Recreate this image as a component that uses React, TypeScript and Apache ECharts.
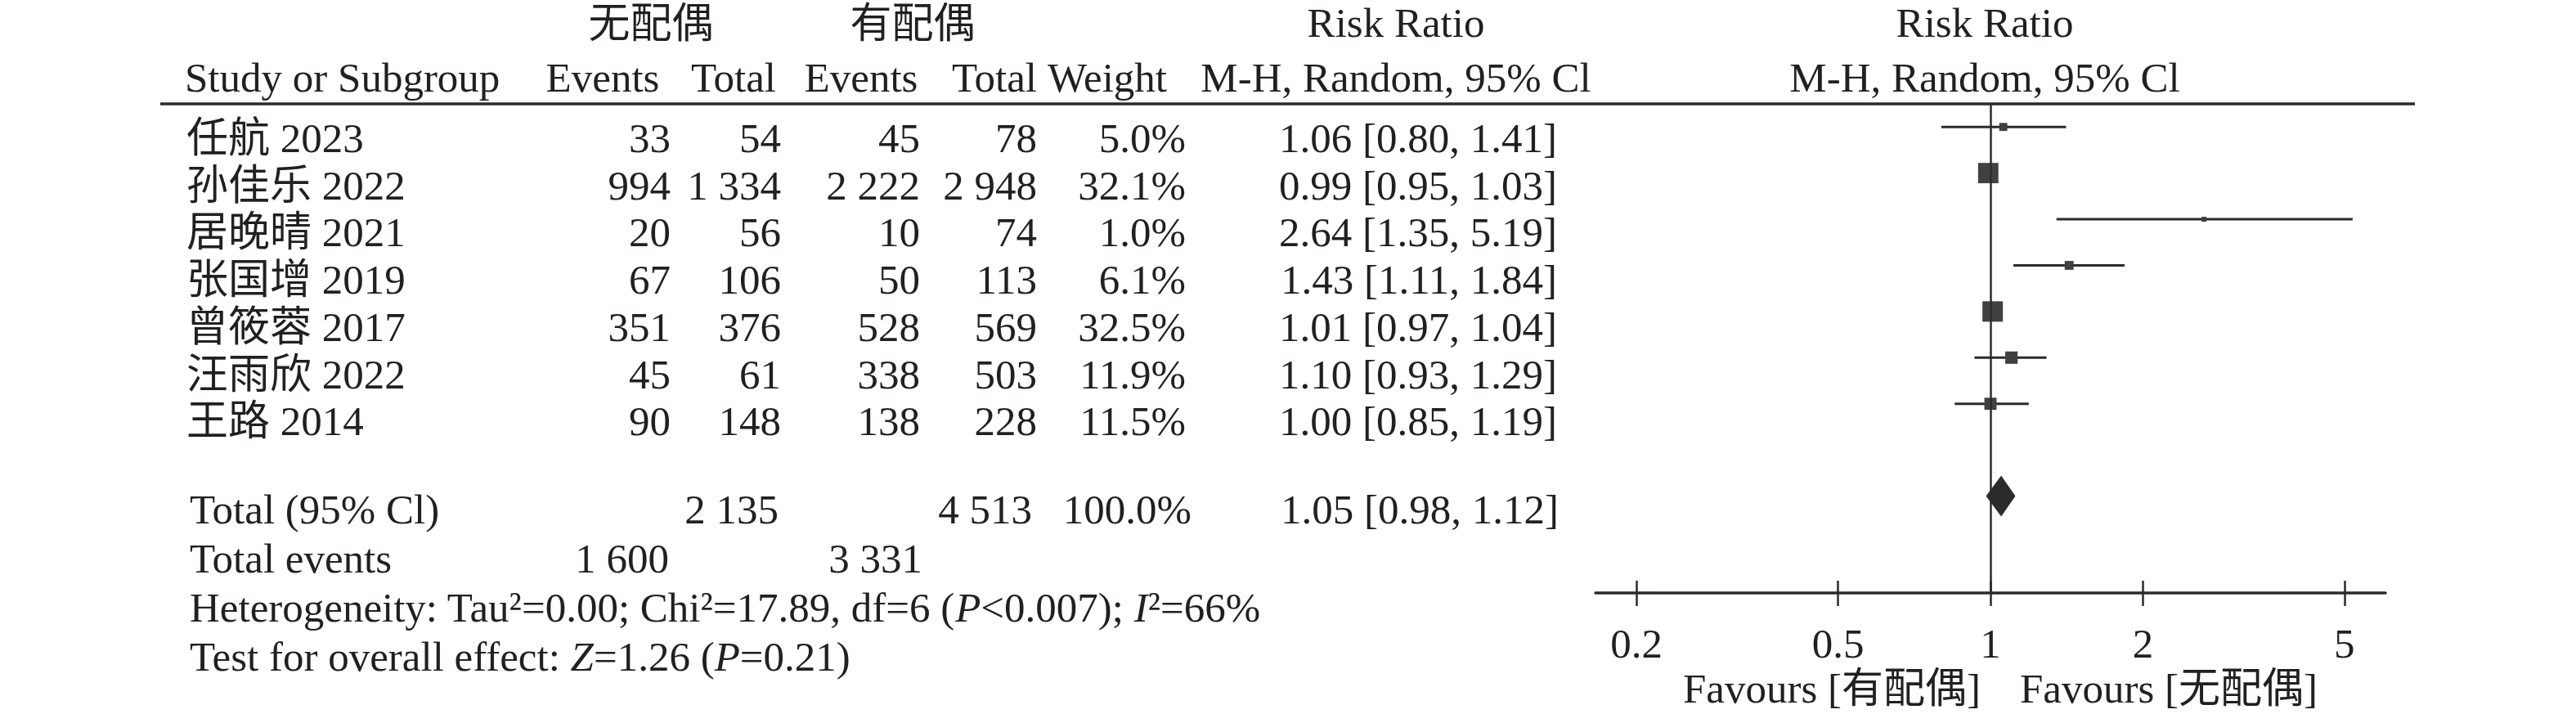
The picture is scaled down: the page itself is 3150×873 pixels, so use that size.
import React, { useEffect, useRef } from 'react';
import * as echarts from 'echarts';

// ---------- data ----------
const studyNames = ['任航 2023', '孙佳乐 2022', '居晚晴 2021', '张国增 2019', '曾筱蓉 2017', '汪雨欣 2022', '王路 2014'];
const eventsNoSpouse = [33, 994, 20, 67, 351, 45, 90];
const totalNoSpouse = [54, 1334, 56, 106, 376, 61, 148];
const eventsSpouse = [45, 2222, 10, 50, 528, 338, 138];
const totalSpouse = [78, 2948, 74, 113, 569, 503, 228];
const weights = [5.0, 32.1, 1.0, 6.1, 32.5, 11.9, 11.5];
const riskRatio = [1.06, 0.99, 2.64, 1.43, 1.01, 1.10, 1.00];
const ciLow = [0.80, 0.95, 1.35, 1.11, 0.97, 0.93, 0.85];
const ciHigh = [1.41, 1.03, 5.19, 1.84, 1.04, 1.29, 1.19];

const pooledRR = [1.05];
const pooledLow = [0.98];
const pooledHigh = [1.12];
const pooledRow = [8];
const totalParticipants = [2135, 4513];
const totalEvents = [1600, 3331];
const totalWeight = [100.0];

const axisTickValues = [0.2, 0.5, 1, 2, 5];
const groupLabels = ['无配偶', '有配偶'];
const favourLabels = ['Favours [有配偶]', 'Favours [无配偶]'];
const heterogeneityParts = ['Heterogeneity: Tau²=0.00; Chi²=17.89, df=6 (', 'P', '<0.007); ', 'I', '²=66%'];
const overallParts = ['Test for overall effect: ', 'Z', '=1.26 (', 'P', '=0.21)'];

// ---------- helpers ----------
const FONT = "'Liberation Serif', 'Noto Sans CJK SC', serif";
const FS = 51;
const INK = '#231f20';
const LINE = '#2b2b2b';
const fmt = (n: number) => n.toString().replace(/\B(?=(\d{3})+(?!\d))/g, ' ');

function txt(text: string, x: number, y: number, align: string = 'left', extra: any = {}) {
  return {
    type: 'text',
    x,
    y,
    silent: true,
    style: {
      text,
      fill: INK,
      fontSize: FS,
      fontFamily: FONT,
      lineHeight: 52,
      align,
      verticalAlign: 'middle',
      textAlign: align,
      textVerticalAlign: 'middle',
      ...extra,
    },
  };
}

function richTxt(parts: string[], italicIdx: number[], x: number, y: number) {
  const s = parts
    .map((p, i) => (italicIdx.includes(i) ? `{i|${p}}` : `{n|${p}}`))
    .join('');
  return txt(s, x, y, 'left', {
    rich: {
      n: { fontSize: FS, fontFamily: FONT, fill: INK, color: INK, lineHeight: 52 },
      i: { fontSize: FS, fontFamily: FONT, fontStyle: 'italic', fill: INK, color: INK, lineHeight: 52 },
    },
  });
}

export default function App() {
  const ref = useRef<HTMLDivElement>(null);

  useEffect(() => {
    if (!ref.current) return;
    const chart = echarts.init(ref.current, undefined, { renderer: 'svg' });

    const rowY0 = 169;
    const rowStep = 57.7;
    const graphics: any[] = [];

    // header row 1
    graphics.push(txt(groupLabels[0], 796, 29, 'center'));
    graphics.push(txt(groupLabels[1], 1116, 29, 'center'));
    graphics.push(txt('Risk Ratio', 1707, 28, 'center'));
    graphics.push(txt('Risk Ratio', 2427, 28, 'center'));
    // header row 2
    graphics.push(txt('Study or Subgroup', 226, 95, 'left'));
    graphics.push(txt('Events', 737, 95, 'center'));
    graphics.push(txt('Total', 897, 95, 'center'));
    graphics.push(txt('Events', 1053, 95, 'center'));
    graphics.push(txt('Total', 1216, 95, 'center'));
    graphics.push(txt('Weight', 1354, 95, 'center'));
    graphics.push(txt('M-H, Random, 95% Cl', 1707, 95, 'center'));
    graphics.push(txt('M-H, Random, 95% Cl', 2427, 95, 'center'));
    // header rule
    graphics.push({
      type: 'line',
      silent: true,
      shape: { x1: 196, y1: 127, x2: 2953, y2: 127 },
      style: { stroke: LINE, lineWidth: 3.5 },
    });

    // study rows
    studyNames.forEach((name, i) => {
      const y = rowY0 + rowStep * i;
      graphics.push(txt(name, 228, y, 'left'));
      graphics.push(txt(fmt(eventsNoSpouse[i]), 820, y, 'right'));
      graphics.push(txt(fmt(totalNoSpouse[i]), 955, y, 'right'));
      graphics.push(txt(fmt(eventsSpouse[i]), 1125, y, 'right'));
      graphics.push(txt(fmt(totalSpouse[i]), 1268, y, 'right'));
      graphics.push(txt(`${weights[i].toFixed(1)}%`, 1450, y, 'right'));
      graphics.push(
        txt(`${riskRatio[i].toFixed(2)} [${ciLow[i].toFixed(2)}, ${ciHigh[i].toFixed(2)}]`, 1904, y, 'right')
      );
    });

    // totals
    graphics.push(txt('Total (95% Cl)', 232, 623, 'left'));
    graphics.push(txt(fmt(totalParticipants[0]), 952, 623, 'right'));
    graphics.push(txt(fmt(totalParticipants[1]), 1262, 623, 'right'));
    graphics.push(txt(`${totalWeight[0].toFixed(1)}%`, 1457, 623, 'right'));
    graphics.push(
      txt(`${pooledRR[0].toFixed(2)} [${pooledLow[0].toFixed(2)}, ${pooledHigh[0].toFixed(2)}]`, 1906, 623, 'right')
    );
    graphics.push(txt('Total events', 232, 683, 'left'));
    graphics.push(txt(fmt(totalEvents[0]), 818, 683, 'right'));
    graphics.push(txt(fmt(totalEvents[1]), 1128, 683, 'right'));
    graphics.push(richTxt(heterogeneityParts, [1, 3], 232, 743));
    graphics.push(richTxt(overallParts, [1, 3], 232, 803));

    // favours labels
    graphics.push(txt(favourLabels[0], 2422, 842, 'right'));
    graphics.push(txt(favourLabels[1], 2470, 842, 'left'));

    const studyData = riskRatio.map((r, i) => [
      Math.log10(r),
      Math.log10(ciLow[i]),
      Math.log10(ciHigh[i]),
      i,
      weights[i],
    ]);
    const pooledData = pooledRR.map((r, i) => [
      Math.log10(r),
      Math.log10(pooledLow[i]),
      Math.log10(pooledHigh[i]),
      pooledRow[i],
    ]);
    const tickLogs = axisTickValues.map((v) => Math.log10(v));
    const maxW = Math.max(...weights);

    const option: any = {
      animation: false,
      backgroundColor: '#ffffff',
      grid: { left: 1951, top: 127, width: 966, height: 598, containLabel: false },
      xAxis: [
        {
          type: 'value',
          min: -0.78,
          max: 0.78,
          position: 'bottom',
          axisLine: { show: true, onZero: false, lineStyle: { color: LINE, width: 3.5 } },
          axisTick: {
            show: true,
            inside: false,
            length: 16,
            customValues: tickLogs,
            lineStyle: { color: LINE, width: 2.5 },
          },
          axisLabel: {
            show: true,
            customValues: tickLogs,
            margin: 36,
            fontSize: FS,
            fontFamily: FONT,
            color: INK,
            formatter: (v: number) => String(Number(Math.pow(10, v).toPrecision(2))),
          },
          splitLine: { show: false },
        },
        {
          type: 'value',
          min: -0.78,
          max: 0.78,
          position: 'bottom',
          axisLine: { show: false, onZero: false },
          axisTick: {
            show: true,
            inside: true,
            length: 15,
            customValues: tickLogs,
            lineStyle: { color: LINE, width: 2.5 },
          },
          axisLabel: { show: false },
          splitLine: { show: false },
        },
      ],
      yAxis: { type: 'value', min: -0.5, max: 10.1, inverse: true, show: false },
      series: [
        {
          type: 'custom',
          xAxisIndex: 0,
          yAxisIndex: 0,
          data: studyData,
          renderItem: (params: any, api: any) => {
            const row = api.value(3);
            const c = api.coord([api.value(0), row]);
            const lo = api.coord([api.value(1), row]);
            const hi = api.coord([api.value(2), row]);
            const s = Math.max(6, 25 * Math.sqrt(api.value(4) / maxW));
            return {
              type: 'group',
              children: [
                {
                  type: 'line',
                  shape: { x1: lo[0], y1: lo[1], x2: hi[0], y2: hi[1] },
                  style: { stroke: LINE, lineWidth: 3 },
                },
                {
                  type: 'rect',
                  shape: { x: c[0] - s / 2, y: c[1] - s / 2, width: s, height: s },
                  style: { fill: '#404040' },
                },
              ],
            };
          },
          markLine: {
            silent: true,
            symbol: ['none', 'none'],
            label: { show: false },
            lineStyle: { color: LINE, width: 2.5, type: 'solid' },
            data: [{ xAxis: 0 }],
          },
          z: 3,
        },
        {
          type: 'custom',
          xAxisIndex: 0,
          yAxisIndex: 0,
          data: pooledData,
          renderItem: (params: any, api: any) => {
            const row = api.value(3);
            const c = api.coord([api.value(0), row]);
            const lo = api.coord([api.value(1), row]);
            const hi = api.coord([api.value(2), row]);
            const h = 25;
            return {
              type: 'polygon',
              shape: {
                points: [
                  [lo[0], lo[1]],
                  [c[0], c[1] - h],
                  [hi[0], hi[1]],
                  [c[0], c[1] + h],
                ],
              },
              style: { fill: '#2b2b2b' },
            };
          },
          z: 4,
        },
      ],
      graphic: { elements: graphics },
    };

    chart.setOption(option);
    return () => chart.dispose();
  }, []);

  return (
    <div
      ref={ref}
      style={{ position: 'fixed', left: 0, top: 0, width: 3150, height: 873, background: '#ffffff' }}
    />
  );
}
